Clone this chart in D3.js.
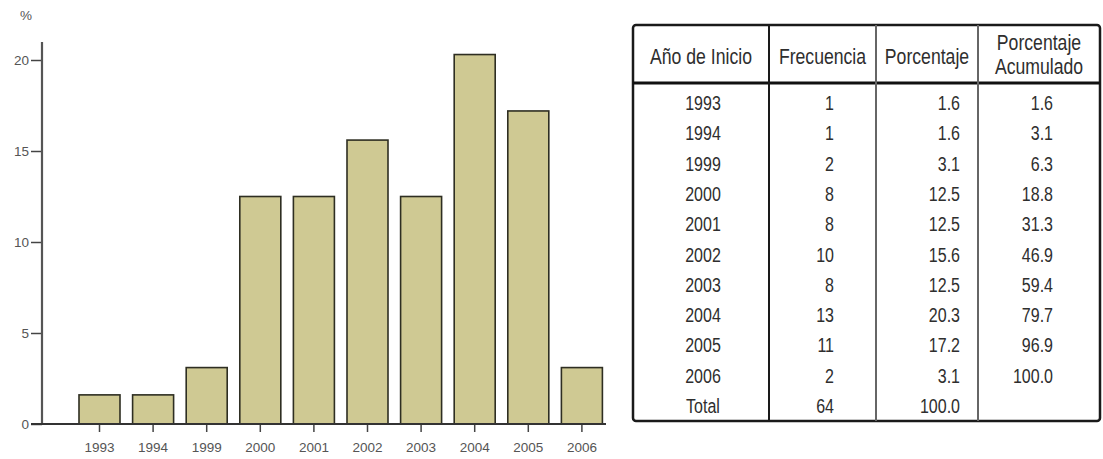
<!DOCTYPE html>
<html>
<head>
<meta charset="utf-8">
<script src="https://cdn.jsdelivr.net/npm/d3@7"></script>
<style>
  body { margin: 0; background: #fff; }
  svg { display: block; }
  .tbl text { font-family: "Liberation Sans", Arial, sans-serif; fill: #2e2e2e; }
  .ax text { font-family: "Liberation Sans", Arial, sans-serif; }
</style>
</head>
<body>
<div id="vis"></div>
<script>
var width = 1103;
var height = 459;

// data
var years = ["1993", "1994", "1999", "2000", "2001", "2002", "2003", "2004", "2005", "2006"];
var freq = [1, 1, 2, 8, 8, 10, 8, 13, 11, 2];
var pct = [1.6, 1.6, 3.1, 12.5, 12.5, 15.6, 12.5, 20.3, 17.2, 3.1];
var cumPct = [1.6, 3.1, 6.3, 18.8, 31.3, 46.9, 59.4, 79.7, 96.9, 100.0];
var yTicks = [0, 5, 10, 15, 20];
var headers = [["Año de Inicio"], ["Frecuencia"], ["Porcentaje"], ["Porcentaje", "Acumulado"]];
var totalFreq = 64;
var totalPct = 100.0;

var svg = d3.select('#vis').append('svg')
    .attr('width', width)
    .attr('height', height);

// ---- bar chart ----
var x = d3.scaleBand().domain(years).range([72.7, 608.7]).paddingInner(0.235).paddingOuter(0.1175);
var y = d3.scaleLinear().domain([0, 20]).range([424, 60]);

var chart = svg.append('g');

chart.selectAll('rect.bar')
    .data(pct)
    .enter().append('rect')
    .attr('class', 'bar')
    .attr('x', function (d, i) { return x(years[i]); })
    .attr('y', function (d) { return y(d); })
    .attr('width', x.bandwidth())
    .attr('height', function (d) { return y(0) - y(d); })
    .attr('fill', '#cfc993')
    .attr('stroke', '#2e2e22')
    .attr('stroke-width', 1.6);

// y axis
var yAxis = chart.append('g')
    .attr('class', 'ax')
    .attr('transform', 'translate(42,0)')
    .call(d3.axisLeft(y).tickValues(yTicks).tickSize(11).tickPadding(2));
yAxis.select('.domain').remove();
yAxis.selectAll('.tick line').attr('stroke', '#444').attr('stroke-width', 1.5);
yAxis.selectAll('.tick text').attr('fill', '#555').style('font-size', '13.5px');
chart.append('line')
    .attr('x1', 42).attr('x2', 42)
    .attr('y1', 42).attr('y2', y(0))
    .attr('stroke', '#555').attr('stroke-width', 2.2);

// x axis
var xAxis = chart.append('g')
    .attr('class', 'ax')
    .attr('transform', 'translate(0,' + y(0) + ')')
    .call(d3.axisBottom(x).tickSize(8).tickPadding(10));
xAxis.select('.domain').remove();
xAxis.selectAll('.tick line').attr('stroke', '#444').attr('stroke-width', 1.5);
xAxis.selectAll('.tick text').attr('fill', '#555').style('font-size', '13.5px');
chart.append('line')
    .attr('x1', 31).attr('x2', 606)
    .attr('y1', y(0)).attr('y2', y(0))
    .attr('stroke', '#333').attr('stroke-width', 2);

chart.append('text')
    .attr('x', 20).attr('y', 20)
    .attr('fill', '#555')
    .style('font-family', 'Liberation Sans, Arial, sans-serif')
    .style('font-size', '13.5px')
    .text('%');

// ---- frequency table ----
var tbl = svg.append('g').attr('class', 'tbl');
var tLeft = 633, tRight = 1100, tTop = 25, tBottom = 421, headBottom = 83;
var colEdges = [tLeft, 769, 876, 978, tRight];
var rowY = d3.scalePoint().domain(d3.range(years.length + 1)).range([110, 413]);

// text drawn in a condensed way (the original uses a narrow face)
function narrowText(g, tx, ty, anchor, size, squeeze, s) {
    return g.append('text')
        .attr('transform', 'translate(' + tx + ',' + ty + ') scale(' + squeeze + ',1)')
        .attr('text-anchor', anchor)
        .style('font-size', size + 'px')
        .text(s);
}

tbl.append('rect')
    .attr('x', tLeft).attr('y', tTop)
    .attr('width', tRight - tLeft).attr('height', tBottom - tTop)
    .attr('rx', 3)
    .attr('fill', 'none').attr('stroke', '#1a1a1a').attr('stroke-width', 2.5);
tbl.append('line')
    .attr('x1', tLeft).attr('x2', tRight)
    .attr('y1', headBottom).attr('y2', headBottom)
    .attr('stroke', '#111').attr('stroke-width', 3);
tbl.selectAll('line.col')
    .data(colEdges.slice(1, 4))
    .enter().append('line')
    .attr('class', 'col')
    .attr('x1', function (d) { return d; }).attr('x2', function (d) { return d; })
    .attr('y1', tTop).attr('y2', tBottom)
    .attr('stroke', function (d, i) { return i === 0 ? '#1a1a1a' : '#666'; })
    .attr('stroke-width', 2);

// header text
headers.forEach(function (lines, c) {
    var cx = (colEdges[c] + colEdges[c + 1]) / 2;
    var y0 = lines.length === 1 ? 64 : 50;
    lines.forEach(function (s, k) {
        narrowText(tbl, cx, y0 + k * 24, 'middle', 21.5, 0.82, s);
    });
});

// body rows
var rows = years.map(function (yr, i) {
    return [yr, String(freq[i]), pct[i].toFixed(1), cumPct[i].toFixed(1)];
});
rows.push(['Total', String(totalFreq), totalPct.toFixed(1), '']);

var colX = [703, 834, 960, 1053];
var colAnchor = ['middle', 'end', 'end', 'end'];

rows.forEach(function (r, i) {
    r.forEach(function (s, c) {
        narrowText(tbl, colX[c], rowY(i), colAnchor[c], 20, 0.8, s);
    });
});
</script>
</body>
</html>
